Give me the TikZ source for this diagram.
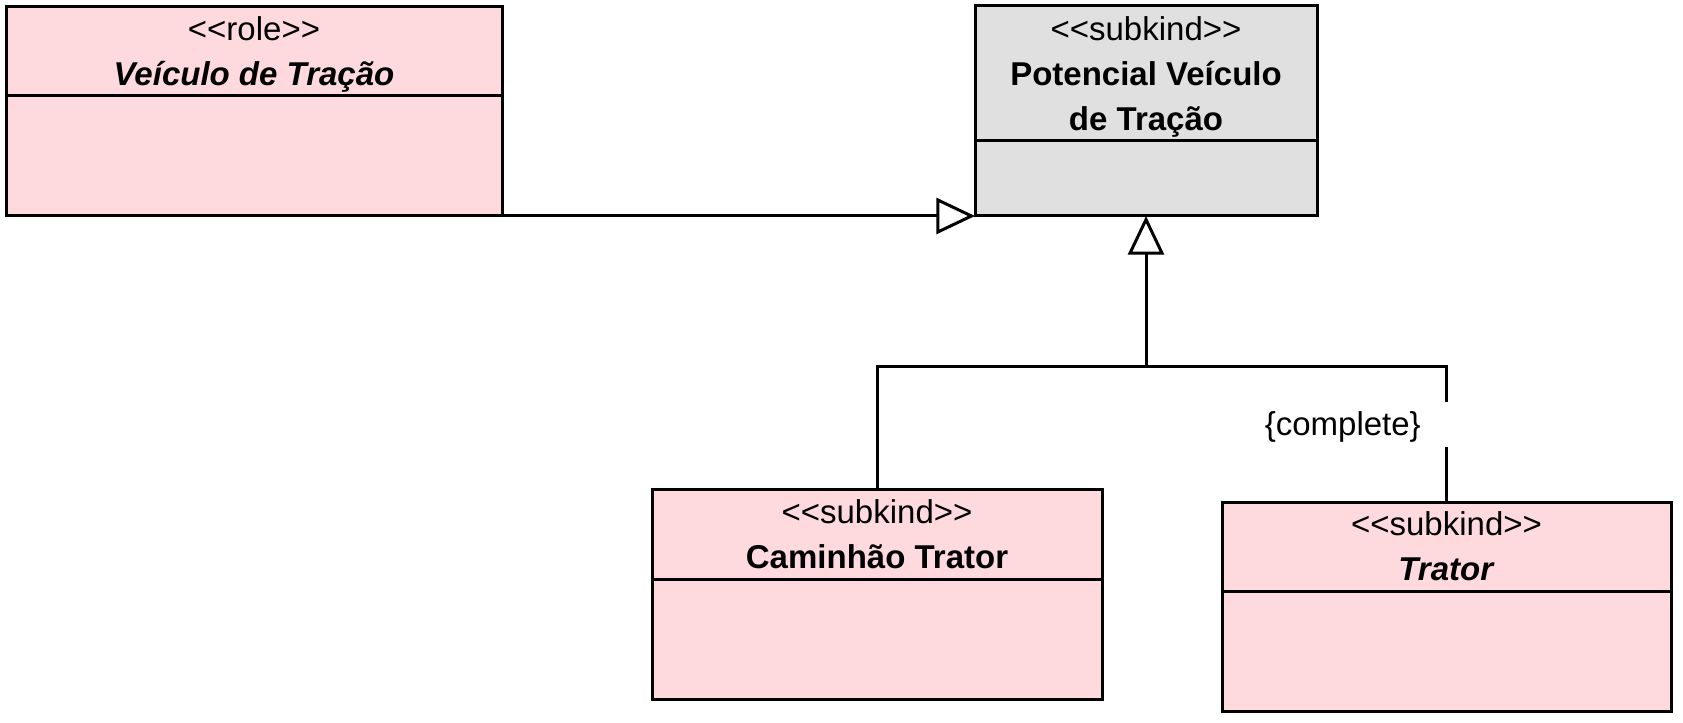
\documentclass[tikz,border=0pt]{standalone}
\usepackage{fontspec}
\setmainfont{Liberation Sans}
\usetikzlibrary{positioning,arrows.meta}
\definecolor{rolepink}{RGB}{254,218,222}
\definecolor{kindgray}{RGB}{224,224,224}
\tikzstyle{head}=[draw=black,line width=2.25pt,anchor=north west,inner sep=0pt,outer sep=0pt,
  text depth=0pt,align=center]
\tikzstyle{body}=[draw=black,line width=2.25pt,anchor=north,inner sep=0pt,outer sep=0pt]
\tikzstyle{pinkclass}=[fill=rolepink]
\tikzstyle{grayclass}=[fill=kindgray]
\tikzstyle{gen}=[line width=2.25pt,-{Triangle[open,length=29pt,width=27pt]}]
\tikzstyle{link}=[line width=2.25pt]

\begin{document}
\begin{tikzpicture}[x=0.75pt,y=-0.75pt,
	  font=\fontsize{24.75}{33.75}\selectfont]
	  \useasboundingbox (0,0) rectangle (1683,723);

	  % role
	  \node[head,pinkclass,minimum width=372pt,minimum height=66.75pt] (vehH) at (6,7)
	    {<{}<role>{}>\\\textbf{\textit{Veículo de Tração}}};
	  \node[body,pinkclass,minimum width=372pt,minimum height=90pt] (vehB) at (vehH.south) {};

	  % subkind (general)
	  \node[head,grayclass,minimum width=256.5pt,minimum height=101.25pt] (potH) at (975,6)
	    {<{}<subkind>{}>\\\textbf{Potencial Veículo}\\\textbf{de Tração}};
	  \node[body,grayclass,minimum width=256.5pt,minimum height=56.25pt] (potB) at (potH.south) {};

	  % subkinds
	  \node[head,pinkclass,minimum width=337.5pt,minimum height=67.5pt] (camH) at (652,489)
	    {<{}<subkind>{}>\\\textbf{Caminhão Trator}};
	  \node[body,pinkclass,minimum width=337.5pt,minimum height=90pt] (camB) at (camH.south) {};

	  \node[head,pinkclass,minimum width=336.75pt,minimum height=66.75pt] (traH) at (1222,502)
	    {<{}<subkind>{}>\\\textbf{\textit{Trator}}};
	  \node[body,pinkclass,minimum width=336.75pt,minimum height=90pt] (traB) at (traH.south) {};

	  % generalizations
	  \draw[gen] (vehB.south east) -- (potB.south west);

	  \path (potB.south) ++(0,150) coordinate (fork);
	  \path (traH.north) ++(0,-55) coordinate (gapB) ++(0,-45) coordinate (gapA);
	  \draw[gen] (fork) -- (potB.south);
	  \draw[link] (camH.north) |- (fork) -| (gapA);
	  \draw[link] (gapB) -- (traH.north);
	  \node[anchor=east,inner sep=0pt] (cmpl) at (1421,427) {\{complete\}};
\end{tikzpicture}
\end{document}
